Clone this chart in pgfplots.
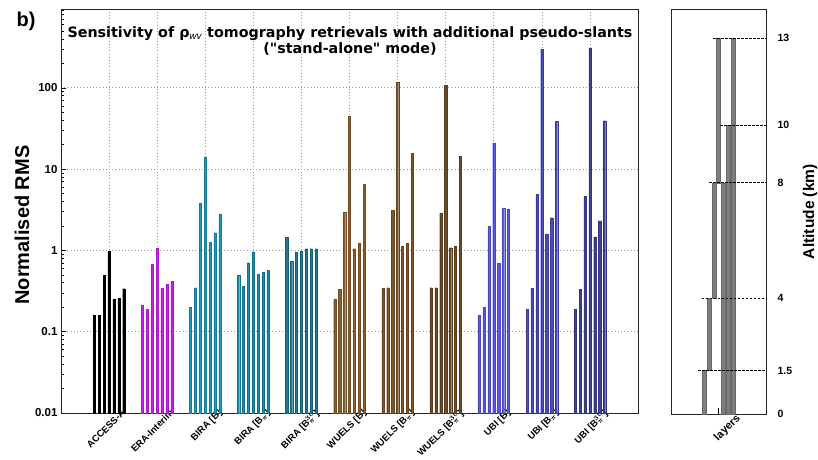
\documentclass[border=0pt]{standalone}
\usepackage{fontspec}
\setmainfont{Liberation Sans}
\newfontfamily\titlefont{DejaVu Sans}
\usepackage{pgfplots}
\usepackage{pgfplotstable}
\pgfplotsset{compat=1.18}

\definecolor{cA}{RGB}{0,0,0}
\definecolor{cE}{RGB}{200,30,240}
\definecolor{cBB}{RGB}{25,155,185}
\definecolor{cBBp}{RGB}{25,140,170}
\definecolor{cBBq}{RGB}{30,120,145}
\definecolor{cWB}{RGB}{140,95,45}
\definecolor{cWBp}{RGB}{125,85,40}
\definecolor{cWBq}{RGB}{110,75,38}
\definecolor{cUB}{RGB}{90,90,230}
\definecolor{cUBp}{RGB}{75,75,190}
\definecolor{cUBq}{RGB}{65,65,150}
\definecolor{layergray}{RGB}{125,125,125}

\pgfplotstableread{
o      A     E     BB    BBp   BBq   WB    WBp   WBq   UB    UBp   UBq
-0.306 0.159 0.21  0.20  0.49  1.46  0.25  0.339 0.348 0.159 0.189 0.189
-0.204 0.159 0.189 0.348 0.359 0.733 0.332 0.348 0.348 0.20  0.339 0.332
-0.102 0.497 0.668 3.77  0.706 0.953 2.95  3.12  2.9   1.96  4.9   4.6
0      0.98  1.06  14.0  0.964 0.98  44.5  117   107   21    298   307
0.102  0.25  0.339 1.26  0.508 1.05  1.05  1.13  1.08  0.69  1.6   1.47
0.204  0.257 0.38  1.65  0.542 1.05  1.22  1.22  1.12  3.34  2.52  2.31
0.306  0.338 0.417 2.82  0.564 1.05  6.45  15.5  14.4  3.18  38.6  39.4
}\rms

\begin{document}
\begin{tikzpicture}
\useasboundingbox (0,0) rectangle (818pt,459pt);
\begin{axis}[
  at={(61pt,46pt)}, anchor=south west, scale only axis,
  width=577pt, height=404pt,
  ymode=log, ymin=0.01, ymax=930, log origin=infty,
  xmin=0, xmax=12,
  xtick={1,...,11},
  xticklabels={ACCESS-A, ERA-Interim, BIRA [B], BIRA [B$_\pi$], BIRA [B$_\pi^{30}$], WUELS [B], WUELS [B$_\pi$], WUELS [B$_\pi^{30}$], UBI [B], UBI [B$_\pi$], UBI [B$_\pi^{30}$]},
  x tick label style={rotate=45, anchor=north east, xshift=15pt, yshift=-2pt, font=\bfseries\boldmath\fontsize{9.5}{10}\selectfont},
  major x tick style={draw=none},
  ytick={0.01,0.1,1,10,100},
  yticklabels={0.01,0.1,1,10,100},
  minor ytick={0.02,0.03,0.04,0.05,0.06,0.07,0.08,0.09,0.2,0.3,0.4,0.5,0.6,0.7,0.8,0.9,2,3,4,5,6,7,8,9,20,30,40,50,60,70,80,90,200,300,400,500,600,700,800,900},
  y tick label style={font=\bfseries\fontsize{11.5}{12}\selectfont},
  ytick pos=left, tick align=inside,
  major tick length=5pt, minor tick length=3pt,
  tick style={black, line width=0.5pt},
  ymajorgrids, xmajorgrids,
  grid style={gray!80, line width=0.6pt, dash pattern=on 1pt off 2.2pt},
  axis line style={line width=0.9pt, black!85},
  ylabel={\bfseries Normalised RMS},
  ylabel style={font=\bfseries\fontsize{20}{22}\selectfont, yshift=-1pt, xshift=-14pt},
  every axis plot/.append style={ybar, bar width=2.2pt, bar shift=0pt, line width=0.3pt},
]
\addplot[fill=cA,   draw=cA]            table[x expr=\thisrow{o}+1,  y=A]   {\rms};
\addplot[fill=cE,   draw=cE!85!black]   table[x expr=\thisrow{o}+2,  y=E]   {\rms};
\addplot[fill=cBB,  draw=cBB!80!black]  table[x expr=\thisrow{o}+3,  y=BB]  {\rms};
\addplot[fill=cBBp, draw=cBBp!80!black] table[x expr=\thisrow{o}+4,  y=BBp] {\rms};
\addplot[fill=cBBq, draw=cBBq!80!black] table[x expr=\thisrow{o}+5,  y=BBq] {\rms};
\addplot[fill=cWB,  draw=cWB!80!black]  table[x expr=\thisrow{o}+6,  y=WB]  {\rms};
\addplot[fill=cWBp, draw=cWBp!80!black] table[x expr=\thisrow{o}+7,  y=WBp] {\rms};
\addplot[fill=cWBq, draw=cWBq!80!black] table[x expr=\thisrow{o}+8,  y=WBq] {\rms};
\addplot[fill=cUB,  draw=cUB!80!black]  table[x expr=\thisrow{o}+9,  y=UB]  {\rms};
\addplot[fill=cUBp, draw=cUBp!80!black] table[x expr=\thisrow{o}+10, y=UBp] {\rms};
\addplot[fill=cUBq, draw=cUBq!80!black] table[x expr=\thisrow{o}+11, y=UBq] {\rms};
\end{axis}

\node[align=center, font=\titlefont\bfseries\fontsize{14.3}{16.5}\selectfont] at (350pt,418pt)
  {Sensitivity of ρ\textsubscript{\normalfont\itshape wv} tomography retrievals with additional pseudo-slants\\("stand-alone" mode)};
\node[font=\bfseries\fontsize{20}{22}\selectfont] at (26pt,438pt) {b)};

\begin{axis}[
  at={(671pt,45pt)}, anchor=south west, scale only axis,
  width=95pt, height=404.7pt,
  xmin=0, xmax=95, ymin=0, ymax=14,
  xtick={47}, xticklabels={layers},
  x tick label style={rotate=45, anchor=north east, xshift=16pt, yshift=-8pt, font=\bfseries\fontsize{11}{12}\selectfont},
  xtick pos=bottom, tick align=inside,
  major x tick style={black, line width=0.5pt}, major tick length=6pt,
  ytick={0,1.5,4,8,10,13},
  yticklabels={0,1.5,4,8,10,13},
  yticklabel pos=right,
  major y tick style={draw=none},
  y tick label style={font=\bfseries\fontsize{10.5}{12}\selectfont, anchor=west, xshift=8pt},
  axis line style={line width=0.9pt, black!85},
  ylabel={Altitude (km)},
  ylabel style={font=\bfseries\fontsize{15.5}{17}\selectfont, yshift=-4pt},
]
\addplot[fill=layergray, draw=layergray!85!black, line width=0.3pt] coordinates {(31,0)(35,0)(35,1.5)(31,1.5)} -- cycle;
\addplot[fill=layergray, draw=layergray!85!black, line width=0.3pt] coordinates {(35.7,1.5)(39.7,1.5)(39.7,4)(35.7,4)} -- cycle;
\addplot[fill=layergray, draw=layergray!85!black, line width=0.3pt] coordinates {(40.7,4)(44.7,4)(44.7,8)(40.7,8)} -- cycle;
\addplot[fill=layergray, draw=layergray!85!black, line width=0.3pt] coordinates {(45.3,8)(49,8)(49,13)(45.3,13)} -- cycle;
\addplot[fill=layergray, draw=layergray!85!black, line width=0.3pt] coordinates {(50.3,0)(54.3,0)(54.3,8)(50.3,8)} -- cycle;
\addplot[fill=layergray, draw=layergray!85!black, line width=0.3pt] coordinates {(55,0)(59,0)(59,10)(55,10)} -- cycle;
\addplot[fill=layergray, draw=layergray!85!black, line width=0.3pt] coordinates {(59.7,0)(64.3,0)(64.3,13)(59.7,13)} -- cycle;
\addplot[black, line width=0.6pt, dash pattern=on 2.5pt off 1.5pt] coordinates {(27.3,1.5)(95,1.5)};
\addplot[black, line width=0.6pt, dash pattern=on 2.5pt off 1.5pt] coordinates {(30.7,4)(95,4)};
\addplot[black, line width=0.6pt, dash pattern=on 2.5pt off 1.5pt] coordinates {(38,8)(95,8)};
\addplot[black, line width=0.6pt, dash pattern=on 2.5pt off 1.5pt] coordinates {(49,10)(95,10)};
\addplot[black, line width=0.6pt, dash pattern=on 2.5pt off 1.5pt] coordinates {(42.3,13)(95,13)};
\end{axis}
\end{tikzpicture}
\end{document}
